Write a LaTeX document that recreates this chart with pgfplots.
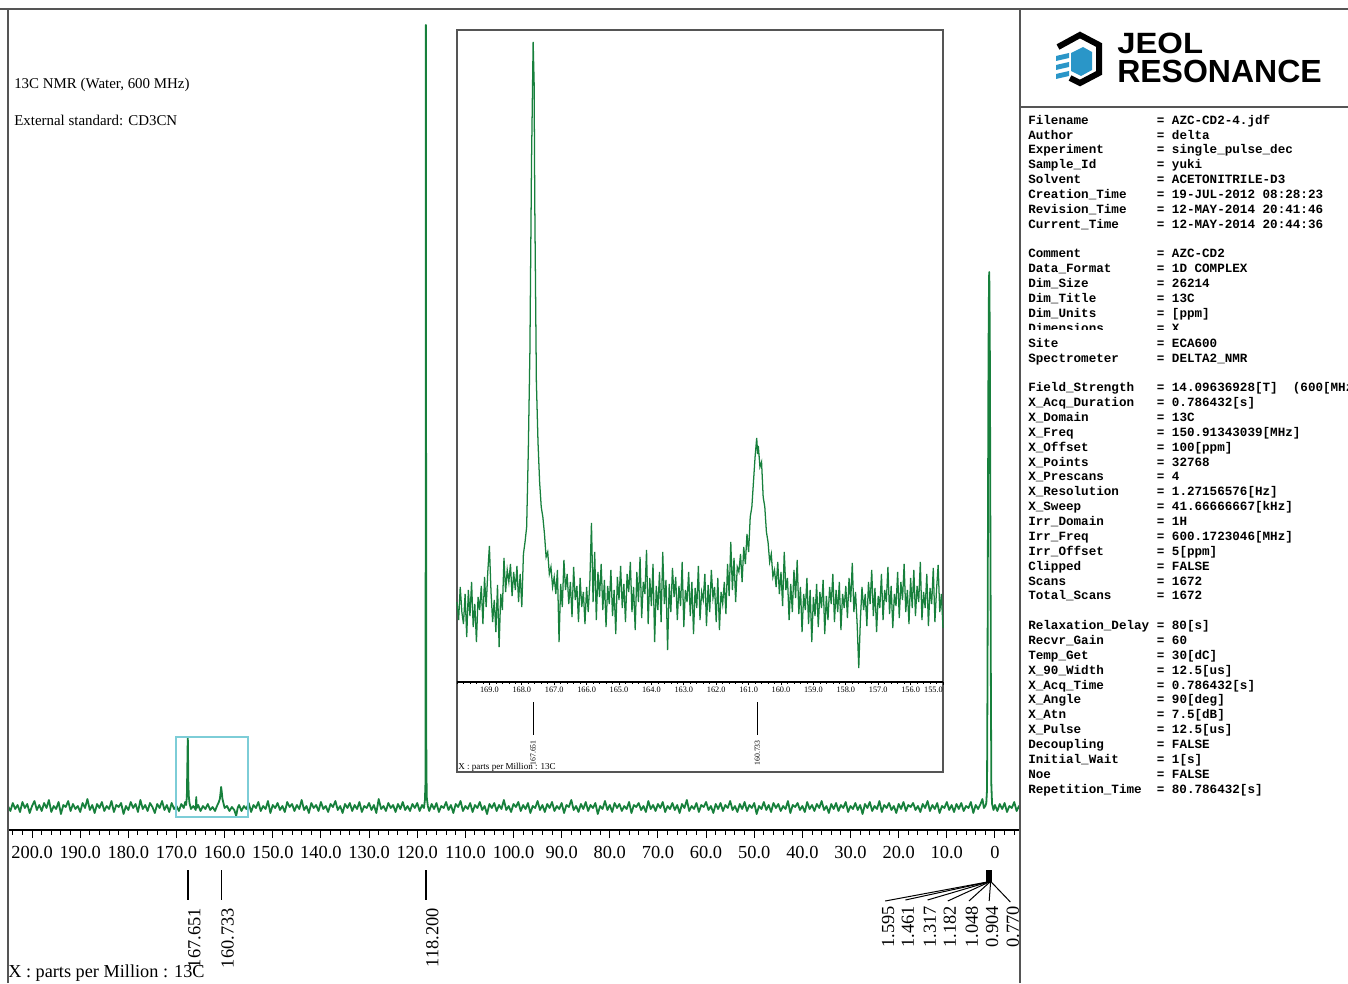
\documentclass[border=0pt]{standalone}
\usepackage{fontspec}
\setmainfont{Liberation Serif}
\setmonofont{Liberation Mono}
\newfontfamily\logofont{Liberation Sans}
\usepackage{pgfplots}
\pgfplotsset{compat=1.18}
\definecolor{spec}{RGB}{23,128,60}
\definecolor{zoombox}{RGB}{125,205,215}
\definecolor{framegray}{RGB}{85,85,85}
\definecolor{jeolblue}{RGB}{42,150,200}
\newcommand\kv[2]{\makebox[\dimexpr17\fontcharwd\font`M\relax][l]{#1}= #2}

\begin{document}
\begin{tikzpicture}
\useasboundingbox (0pt,0pt) rectangle (1011pt,737.25pt);

% main spectrum, y = 830 - pixel row
\begin{axis}[at={(6pt,114.75pt)}, anchor=south west, scale only axis,
  width=759pt, height=615.75pt,
  xmin=-5.2, xmax=205, ymin=0, ymax=821, x dir=reverse,
  axis x line*=bottom, axis y line=none, ytick=\empty,
  xtick={0,10,...,200},
  xticklabels={0,10.0,20.0,30.0,40.0,50.0,60.0,70.0,80.0,90.0,100.0,110.0,120.0,130.0,140.0,150.0,160.0,170.0,180.0,190.0,200.0},
  minor xtick={-4,-2,...,204},
  tick align=outside, major tick length=6pt, minor tick length=3.5pt,
  tick style={black, line width=0.75pt},
  x axis line style={line width=1pt},
  xticklabel style={font=\fontsize{13.8}{14}\selectfont, inner sep=0pt, anchor=north, yshift=-6pt},
  clip=false]
\addplot[spec, line width=1.35pt, mark=none, line join=round] coordinates {
(205.0,24)(204.5,19)(204.0,27)(203.5,21)(203.0,25)(202.5,18)(202.0,28)(201.5,22)(201.0,26)(200.5,17)
(200.0,24)(199.5,29)(199.0,20)(198.5,25)(198.0,19)(197.5,27)(197.0,22)(196.5,30)(196.0,18)(195.5,24)
(195.0,21)(194.5,28)(194.0,16)(193.5,25)(193.0,23)(192.5,29)(192.0,19)(191.5,26)(191.0,21)(190.5,24)
(190.0,18)(189.5,27)(189.0,22)(188.5,31)(188.0,20)(187.5,25)(187.0,17)(186.5,26)(186.0,22)(185.5,28)
(185.0,19)(184.5,24)(184.0,21)(183.5,29)(183.0,18)(182.5,25)(182.0,23)(181.5,27)(181.0,16)(180.5,24)
(180.0,20)(179.5,28)(179.0,22)(178.5,26)(178.0,18)(177.5,30)(177.0,21)(176.5,25)(176.0,19)(175.5,27)
(175.0,23)(174.5,17)(174.0,26)(173.5,22)(173.0,29)(172.5,20)(172.0,25)(171.5,18)(171.0,27)(170.5,21)
(170.0,24)(169.5,19)(169.0,26)(168.5,22)(168.2,28)(168.0,25)(167.85,33)(167.75,62)(167.7,80)(167.65,93)
(167.6,75)(167.55,50)(167.45,34)(167.3,27)(167.0,21)(166.5,24)(166.0,20)(165.9,33)(165.8,22)(165.5,25)
(165.0,19)(164.5,24)(164.0,21)(163.5,26)(163.0,20)(162.5,23)(162.0,19)(161.5,25)(161.2,28)(161.0,31)
(160.85,37)(160.73,43)(160.6,38)(160.45,31)(160.2,26)(160.0,22)(159.5,24)(159.0,19)(158.5,23)(158.0,20)
(157.6,14)(157.3,22)(157.0,25)(156.5,19)(156.0,24)(155.5,21)(155.0,27)(154.5,18)(154.0,25)(153.5,22)
(153.0,28)(152.5,19)(152.0,24)(151.5,21)(151.0,29)(150.5,17)(150.0,25)(149.5,22)(149.0,27)(148.5,20)
(148.0,24)(147.5,18)(147.0,28)(146.5,23)(146.0,26)(145.5,19)(145.0,25)(144.5,21)(144.0,30)(143.5,20)
(143.0,24)(142.5,17)(142.0,27)(141.5,22)(141.0,25)(140.5,19)(140.0,28)(139.5,21)(139.0,24)(138.5,18)
(138.0,26)(137.5,23)(137.0,29)(136.5,20)(136.0,24)(135.5,17)(135.0,26)(134.5,22)(134.0,27)(133.5,19)
(133.0,25)(132.5,21)(132.0,28)(131.5,18)(131.0,24)(130.5,22)(130.0,27)(129.5,20)(129.0,25)(128.5,17)
(128.0,31)(127.5,21)(127.0,24)(126.5,19)(126.0,27)(125.5,22)(125.0,25)(124.5,18)(124.0,26)(123.5,21)
(123.0,28)(122.5,20)(122.0,24)(121.5,19)(121.0,26)(120.5,22)(120.0,27)(119.5,19)(119.0,25)(118.6,22)
(118.4,30)(118.3,45)(118.25,250)(118.2,805)(118.15,320)(118.1,60)(118.0,32)(117.8,24)(117.5,19)(117.0,26)
(116.5,21)(116.0,27)(115.5,18)(115.0,24)(114.5,22)(114.0,28)(113.5,20)(113.0,25)(112.5,17)(112.0,26)
(111.5,23)(111.0,29)(110.5,19)(110.0,24)(109.5,21)(109.0,27)(108.5,18)(108.0,25)(107.5,22)(107.0,28)
(106.5,20)(106.0,24)(105.5,16)(105.0,26)(104.5,22)(104.0,27)(103.5,19)(103.0,25)(102.5,21)(102.0,30)
(101.5,20)(101.0,24)(100.5,18)(100.0,26)(99.5,23)(99.0,28)(98.5,19)(98.0,25)(97.5,21)(97.0,27)
(96.5,17)(96.0,24)(95.5,22)(95.0,29)(94.5,20)(94.0,25)(93.5,18)(93.0,26)(92.5,22)(92.0,28)
(91.5,19)(91.0,24)(90.5,21)(90.0,27)(89.5,17)(89.0,25)(88.5,23)(88.0,30)(87.5,20)(87.0,24)
(86.5,18)(86.0,26)(85.5,21)(85.0,28)(84.5,19)(84.0,25)(83.5,22)(83.0,27)(82.5,16)(82.0,24)
(81.5,21)(81.0,29)(80.5,20)(80.0,25)(79.5,18)(79.0,27)(78.5,22)(78.0,26)(77.5,19)(77.0,24)
(76.5,21)(76.0,28)(75.5,17)(75.0,25)(74.5,23)(74.0,27)(73.5,20)(73.0,24)(72.5,18)(72.0,29)
(71.5,21)(71.0,25)(70.5,19)(70.0,26)(69.5,22)(69.0,28)(68.5,18)(68.0,24)(67.5,21)(67.0,27)
(66.5,20)(66.0,25)(65.5,17)(65.0,26)(64.5,22)(64.0,30)(63.5,19)(63.0,24)(62.5,21)(62.0,27)
(61.5,18)(61.0,25)(60.5,23)(60.0,28)(59.5,20)(59.0,24)(58.5,17)(58.0,26)(57.5,21)(57.0,27)
(56.5,19)(56.0,25)(55.5,22)(55.0,29)(54.5,20)(54.0,24)(53.5,18)(53.0,26)(52.5,21)(52.0,28)
(51.5,19)(51.0,25)(50.5,22)(50.0,27)(49.5,16)(49.0,24)(48.5,21)(48.0,28)(47.5,20)(47.0,25)
(46.5,18)(46.0,27)(45.5,22)(45.0,26)(44.5,19)(44.0,24)(43.5,21)(43.0,29)(42.5,17)(42.0,25)
(41.5,23)(41.0,27)(40.5,20)(40.0,24)(39.5,18)(39.0,28)(38.5,21)(38.0,25)(37.5,19)(37.0,26)
(36.5,22)(36.0,29)(35.5,20)(35.0,24)(34.5,17)(34.0,26)(33.5,21)(33.0,27)(32.5,19)(32.0,25)
(31.5,22)(31.0,28)(30.5,18)(30.0,24)(29.5,21)(29.0,27)(28.5,20)(28.0,25)(27.5,16)(27.0,26)
(26.5,22)(26.0,28)(25.5,19)(25.0,24)(24.5,21)(24.0,29)(23.5,18)(23.0,25)(22.5,22)(22.0,27)
(21.5,20)(21.0,24)(20.5,17)(20.0,26)(19.5,21)(19.0,28)(18.5,19)(18.0,25)(17.5,23)(17.0,27)
(16.5,20)(16.0,24)(15.5,18)(15.0,26)(14.5,22)(14.0,29)(13.5,19)(13.0,25)(12.5,21)(12.0,27)
(11.5,17)(11.0,24)(10.5,22)(10.0,28)(9.5,20)(9.0,25)(8.5,18)(8.0,26)(7.5,21)(7.0,27)
(6.5,19)(6.0,24)(5.5,22)(5.0,28)(4.5,17)(4.0,25)(3.5,21)(3.0,26)(2.6,31)(2.3,22)
(2.0,24)(1.8,27)(1.65,40)(1.55,150)(1.45,320)(1.35,470)(1.25,540)(1.2,558)(1.15,545)(1.05,470)
(0.95,300)(0.85,150)(0.75,45)(0.6,26)(0.3,20)(0.0,25)(-0.5,19)(-1.0,26)(-1.5,21)(-2.0,27)
(-2.5,18)(-3.0,24)(-3.5,22)(-4.0,28)(-4.5,19)(-5.0,24)(-5.2,21)};
% zoom region marker
\draw[zoombox, line width=1.1pt] (axis cs:170.1,13) rectangle (axis cs:155.1,93);
% peak picks
\draw[line width=1.1pt] (axis cs:167.651,-40) -- (axis cs:167.651,-70);
\draw[line width=0.8pt] (axis cs:160.733,-40) -- (axis cs:160.733,-70);
\draw[line width=1.1pt] (axis cs:118.200,-40) -- (axis cs:118.200,-70);
\begin{scope}[every node/.style={rotate=90, anchor=north east, inner sep=0pt, font=\fontsize{13.8}{14}\selectfont}]
\node at (axis cs:167.651,-78) {167.651};
\node at (axis cs:160.733,-78) {160.733};
\node at (axis cs:118.200,-78) {118.200};
\end{scope}
\draw[line width=1.2pt] (axis cs:1.595,-40) -- (axis cs:1.595,-52);
\draw[line width=1.2pt] (axis cs:1.461,-40) -- (axis cs:1.461,-52);
\draw[line width=1.2pt] (axis cs:1.317,-40) -- (axis cs:1.317,-52);
\draw[line width=1.2pt] (axis cs:1.182,-40) -- (axis cs:1.182,-52);
\draw[line width=1.2pt] (axis cs:1.048,-40) -- (axis cs:1.048,-52);
\draw[line width=1.2pt] (axis cs:0.904,-40) -- (axis cs:0.904,-52);
\draw[line width=1.2pt] (axis cs:0.770,-40) -- (axis cs:0.770,-52);
\draw[line width=0.75pt] (axis cs:1.595,-52) -- (axis cs:22.8,-71);
\draw[line width=0.75pt] (axis cs:1.461,-52) -- (axis cs:18.6,-70);
\draw[line width=0.75pt] (axis cs:1.317,-52) -- (axis cs:14.0,-70);
\draw[line width=0.75pt] (axis cs:1.182,-52) -- (axis cs:9.8,-71);
\draw[line width=0.75pt] (axis cs:1.048,-52) -- (axis cs:5.4,-71);
\draw[line width=0.75pt] (axis cs:0.904,-52) -- (axis cs:1.2,-71);
\draw[line width=0.75pt] (axis cs:0.770,-52) -- (axis cs:-3.2,-72);
\begin{scope}[every node/.style={rotate=90, anchor=east, inner sep=0pt, font=\fontsize{13.8}{14}\selectfont}]
\node at (axis cs:22.2,-76) {1.595};
\node at (axis cs:18.1,-76) {1.461};
\node at (axis cs:13.5,-76) {1.317};
\node at (axis cs:9.35,-76) {1.182};
\node at (axis cs:4.8,-76) {1.048};
\node at (axis cs:0.6,-76) {0.904};
\node at (axis cs:-3.7,-76) {0.770};
\end{scope}
\end{axis}

% inset frame
\begin{scope}[x=0.75pt,y=0.75pt]
\fill[white] (457,211) rectangle (943,953);
\draw[framegray, line width=1.1pt] (457,211) rectangle (943,953);
\end{scope}

% inset: expanded 170-155 ppm, y = 682 - pixel row
\begin{axis}[at={(342.75pt,225.75pt)}, anchor=south west, scale only axis,
  width=364.5pt, height=489pt,
  xmin=155, xmax=170, ymin=0, ymax=652, x dir=reverse,
  axis x line*=bottom, axis y line=none, ytick=\empty,
  xtick={156,157,...,169},
  xticklabels={156.0,157.0,158.0,159.0,160.0,161.0,162.0,163.0,164.0,165.0,166.0,167.0,168.0,169.0},
  extra x ticks={155}, extra x tick labels={155.0},
  extra x tick style={xticklabel style={anchor=north east}},
  minor xtick={155,155.2,...,170},
  tick align=outside, major tick length=2.4pt, minor tick length=1.4pt,
  tick style={black, line width=0.5pt},
  x axis line style={line width=0.8pt},
  xticklabel style={font=\fontsize{6.2}{6.5}\selectfont, inner sep=0pt, anchor=north, yshift=-1pt},
  clip=false]
\addplot[spec, line width=0.95pt, mark=none] coordinates {
(170.00,80)(169.95,62)(169.90,95)(169.85,70)(169.80,58)(169.75,88)(169.70,45)(169.65,92)(169.60,66)(169.55,100)
(169.50,55)(169.45,78)(169.40,40)(169.35,85)(169.30,72)(169.25,96)(169.20,58)(169.15,105)(169.10,75)(169.05,110)
(169.00,136)(168.95,90)(168.90,60)(168.85,82)(168.80,50)(168.75,97)(168.70,35)(168.65,88)(168.60,72)(168.55,124)
(168.50,90)(168.45,112)(168.40,100)(168.35,118)(168.30,86)(168.25,110)(168.20,92)(168.15,116)(168.10,80)(168.05,108)
(168.00,75)(167.95,128)(167.90,140)(167.85,155)(167.80,230)(167.75,330)(167.70,520)(167.65,640)(167.62,600)(167.60,480)
(167.55,300)(167.50,240)(167.45,200)(167.40,175)(167.35,165)(167.30,148)(167.25,125)(167.20,130)(167.15,108)(167.10,115)
(167.05,95)(167.00,105)(166.95,88)(166.90,112)(166.85,40)(166.80,98)(166.75,75)(166.70,122)(166.65,92)(166.60,108)
(166.55,78)(166.50,100)(166.45,65)(166.40,115)(166.35,82)(166.30,96)(166.25,60)(166.20,104)(166.15,75)(166.10,90)
(166.05,58)(166.00,95)(165.95,70)(165.90,100)(165.85,159)(165.80,80)(165.75,130)(165.70,62)(165.65,110)(165.60,85)
(165.55,118)(165.50,72)(165.45,102)(165.40,55)(165.35,96)(165.30,78)(165.25,112)(165.20,66)(165.15,92)(165.10,48)
(165.05,105)(165.00,82)(164.95,116)(164.90,74)(164.85,98)(164.80,60)(164.75,108)(164.70,90)(164.65,120)(164.60,70)
(164.55,95)(164.50,52)(164.45,110)(164.40,80)(164.35,125)(164.30,64)(164.25,100)(164.20,88)(164.15,132)(164.10,58)
(164.05,104)(164.00,76)(163.95,118)(163.90,40)(163.85,96)(163.80,72)(163.75,110)(163.70,60)(163.65,130)(163.60,78)
(163.55,102)(163.50,32)(163.45,98)(163.40,70)(163.35,114)(163.30,85)(163.25,105)(163.20,62)(163.15,96)(163.10,76)
(163.05,120)(163.00,55)(162.95,92)(162.90,80)(162.85,110)(162.80,66)(162.75,100)(162.70,48)(162.65,94)(162.60,74)
(162.55,116)(162.50,62)(162.45,90)(162.40,82)(162.35,108)(162.30,56)(162.25,97)(162.20,70)(162.15,112)(162.10,84)
(162.05,95)(162.00,60)(161.95,104)(161.90,52)(161.85,90)(161.80,78)(161.75,100)(161.70,68)(161.65,118)(161.60,86)
(161.55,140)(161.50,92)(161.45,124)(161.40,80)(161.35,115)(161.30,110)(161.25,128)(161.20,100)(161.15,135)(161.10,118)
(161.05,148)(161.00,130)(160.95,165)(160.90,175)(160.85,200)(160.80,225)(160.75,244)(160.72,228)(160.70,236)(160.65,215)
(160.60,220)(160.55,185)(160.50,175)(160.45,150)(160.40,140)(160.35,120)(160.30,128)(160.25,105)(160.20,112)(160.15,95)
(160.10,120)(160.05,88)(160.00,110)(159.95,76)(159.90,130)(159.85,92)(159.80,104)(159.75,62)(159.70,98)(159.65,70)
(159.60,112)(159.55,84)(159.50,122)(159.45,68)(159.40,95)(159.35,50)(159.30,88)(159.25,72)(159.20,104)(159.15,58)
(159.10,92)(159.05,40)(159.00,85)(158.95,66)(158.90,98)(158.85,55)(158.80,90)(158.75,74)(158.70,102)(158.65,48)
(158.60,86)(158.55,62)(158.50,95)(158.45,78)(158.40,108)(158.35,60)(158.30,92)(158.25,70)(158.20,100)(158.15,52)
(158.10,88)(158.05,74)(158.00,96)(157.95,64)(157.90,104)(157.85,80)(157.80,119)(157.75,70)(157.70,90)(157.65,58)
(157.60,14)(157.55,62)(157.50,95)(157.45,72)(157.40,88)(157.35,56)(157.30,100)(157.25,78)(157.20,112)(157.15,66)
(157.10,94)(157.05,50)(157.00,86)(156.95,74)(156.90,108)(156.85,62)(156.80,92)(156.75,80)(156.70,115)(156.65,68)
(156.60,96)(156.55,54)(156.50,88)(156.45,76)(156.40,110)(156.35,64)(156.30,100)(156.25,82)(156.20,118)(156.15,70)
(156.10,92)(156.05,58)(156.00,104)(155.95,74)(155.90,112)(155.85,66)(155.80,96)(155.75,80)(155.70,120)(155.65,62)
(155.60,90)(155.55,74)(155.50,108)(155.45,56)(155.40,94)(155.35,78)(155.30,114)(155.25,60)(155.20,92)(155.15,117)
(155.10,70)(155.05,88)(155.00,54)};
\draw[line width=0.9pt] (axis cs:167.651,-20) -- (axis cs:167.651,-53);
\draw[line width=0.9pt] (axis cs:160.733,-20) -- (axis cs:160.733,-53);
\begin{scope}[every node/.style={rotate=90, anchor=east, inner sep=0pt, font=\fontsize{5.8}{6}\selectfont}]
\node at (axis cs:167.651,-58) {167.651};
\node at (axis cs:160.733,-58) {160.733};
\end{scope}
\end{axis}

\begin{scope}[x=0.75pt,y=0.75pt]
\node[anchor=base west, inner sep=0pt, font=\fontsize{6.8}{7}\selectfont] at (458,214) {X : parts per Million : 13C};

% texts on the left
\node[anchor=base west, inner sep=0pt, font=\fontsize{11.2}{13}\selectfont] at (14,894) {13C NMR (Water, 600 MHz)};
\node[anchor=base west, inner sep=0pt, font=\fontsize{11.2}{13}\selectfont] at (14,857) {External standard: CD3CN};
\node[anchor=base west, inner sep=0pt, font=\fontsize{13.7}{14}\selectfont] at (8,6) {X : parts per Million : 13C};

% frame lines
\draw[framegray, line width=1.5pt] (0,974) -- (1348,974);
\draw[framegray, line width=1.5pt] (8,0) -- (8,974);
\draw[framegray, line width=1.5pt] (1020,0) -- (1020,974);
\draw[framegray, line width=1.2pt] (1020,876) -- (1348,876);

% logo
\draw[black, line width=4.5pt, line join=miter] (1058,936) -- (1080,948) -- (1099,938) -- (1099,910) -- (1080,900) -- (1070,905);
\fill[jeolblue] (1071,930) -- (1083,936) -- (1092,931) -- (1092,913) -- (1081,907) -- (1071,912) -- cycle;
\fill[jeolblue] (1056,927) -- (1069,930) -- (1069,925) -- (1056,922) -- cycle;
\fill[jeolblue] (1056,918) -- (1069,921) -- (1069,916) -- (1056,913) -- cycle;
\fill[jeolblue] (1056,909) -- (1069,912) -- (1069,907) -- (1056,904) -- cycle;
\node[anchor=base west, inner sep=0pt, xscale=1.12, font=\logofont\bfseries\fontsize{22}{23}\selectfont] at (1117,929) {JEOL};
\node[anchor=base west, inner sep=0pt, font=\logofont\bfseries\fontsize{24}{25}\selectfont] at (1117,900) {RESONANCE};

% acquisition parameters
\node[anchor=north west, inner sep=0pt, font=\ttfamily\bfseries\fontsize{9.45}{11.15}\selectfont] at (1028,869.5) {%
\begin{tabular}{@{}l@{}}
\kv{Filename}{AZC-CD2-4.jdf}\\
\kv{Author}{delta}\\
\kv{Experiment}{single\_pulse\_dec}\\
\kv{Sample\_Id}{yuki}\\
\kv{Solvent}{ACETONITRILE-D3}\\
\kv{Creation\_Time}{19-JUL-2012 08:28:23}\\
\kv{Revision\_Time}{12-MAY-2014 20:41:46}\\
\kv{Current\_Time}{12-MAY-2014 20:44:36}\\
\\
\kv{Comment}{AZC-CD2}\\
\kv{Data\_Format}{1D COMPLEX}\\
\kv{Dim\_Size}{26214}\\
\kv{Dim\_Title}{13C}\\
\kv{Dim\_Units}{[ppm]}\\
\kv{Dimensions}{X}\\
\kv{Site}{ECA600}\\
\kv{Spectrometer}{DELTA2\_NMR}\\
\\
\kv{Field\_Strength}{14.09636928[T]\ \ (600[MHz]}\\
\kv{X\_Acq\_Duration}{0.786432[s]}\\
\kv{X\_Domain}{13C}\\
\kv{X\_Freq}{150.91343039[MHz]}\\
\kv{X\_Offset}{100[ppm]}\\
\kv{X\_Points}{32768}\\
\kv{X\_Prescans}{4}\\
\kv{X\_Resolution}{1.27156576[Hz]}\\
\kv{X\_Sweep}{41.66666667[kHz]}\\
\kv{Irr\_Domain}{1H}\\
\kv{Irr\_Freq}{600.1723046[MHz]}\\
\kv{Irr\_Offset}{5[ppm]}\\
\kv{Clipped}{FALSE}\\
\kv{Scans}{1672}\\
\kv{Total\_Scans}{1672}\\
\\
\kv{Relaxation\_Delay}{80[s]}\\
\kv{Recvr\_Gain}{60}\\
\kv{Temp\_Get}{30[dC]}\\
\kv{X\_90\_Width}{12.5[us]}\\
\kv{X\_Acq\_Time}{0.786432[s]}\\
\kv{X\_Angle}{90[deg]}\\
\kv{X\_Atn}{7.5[dB]}\\
\kv{X\_Pulse}{12.5[us]}\\
\kv{Decoupling}{FALSE}\\
\kv{Initial\_Wait}{1[s]}\\
\kv{Noe}{FALSE}\\
\kv{Repetition\_Time}{80.786432[s]}
\end{tabular}};
\fill[white] (1024,648) rectangle (1300,652.5);
\end{scope}
\end{tikzpicture}
\end{document}
